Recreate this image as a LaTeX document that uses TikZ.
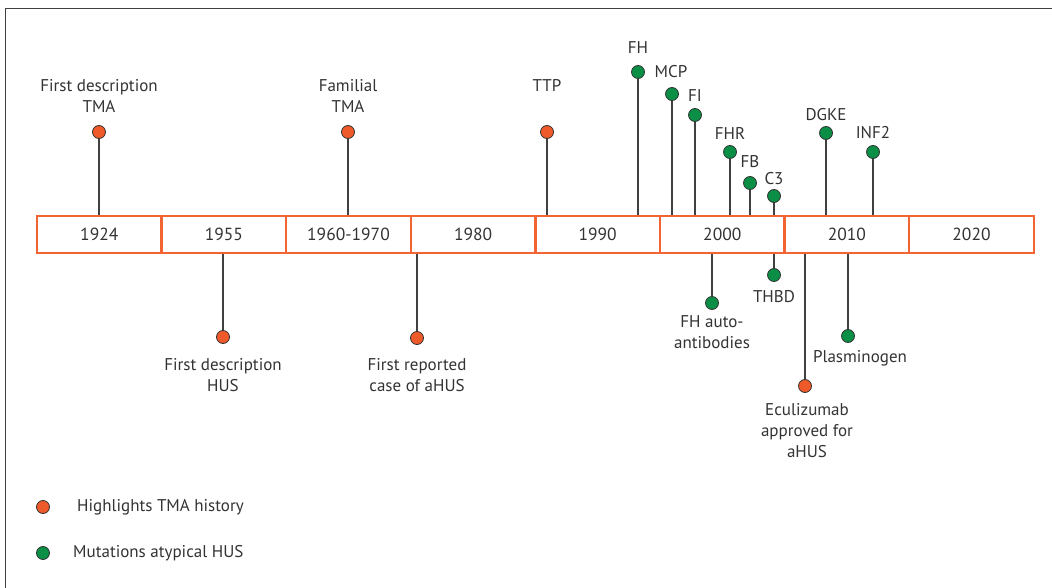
\documentclass[tikz,border=0pt]{standalone}
\usepackage{fontspec}
\setmainfont{PT Sans}
\definecolor{orng}{HTML}{EE5A2A}
\definecolor{grn}{HTML}{0B8E45}
\definecolor{txt}{HTML}{333333}
\definecolor{boxc}{HTML}{F26532}
\begin{document}
\begin{tikzpicture}[x=1pt,y=-1pt,
  yearbox/.style={draw=boxc,line width=2.4pt,minimum width=124.6pt,minimum height=37pt,inner sep=0pt,font=\fontsize{17.5}{17.5}\selectfont,text=txt},
  opin/.style={circle,draw=black!80,line width=0.8pt,fill=orng,minimum size=13pt,inner sep=0pt},
  gpin/.style={circle,draw=black!80,line width=0.8pt,fill=grn,minimum size=13pt,inner sep=0pt},
  lbl/.style={font=\fontsize{17}{21}\selectfont,text=txt,align=center,inner sep=0pt},
  stem/.style={draw=black!75,line width=1.1pt}]
\useasboundingbox (0,0) rectangle (1052,588);
\draw[black!75,line width=1.5pt] (1052,8.5) coordinate (fr1) -- (5.5,8.5) coordinate (fr2) -- (5.5,588) coordinate (fr3);
% year boxes
\foreach \i/\t in {0/1924,1/1955,2/1960-1970,3/1980,4/1990,5/2000,6/2010,7/2020}{
  \node[yearbox] (b\i) at ({37+124.6*\i+62.3},234.5) {\t};
}
% upper pins
\node[opin] (p1) at (99,132) {};
\node[lbl] at (99,96) {First description\\TMA};
\node[opin] (p2) at (348,132) {};
\node[lbl] at (348,96) {Familial\\TMA};
\node[opin] (p3) at (547,132) {};
\node[lbl] at (547,85) {TTP};
\node[gpin] (g1) at (638,72) {};
\node[lbl] at (638,48) {FH};
\node[gpin] (g2) at (672,94) {};
\node[lbl] at (671,72) {MCP};
\node[gpin] (g3) at (695,115) {};
\node[lbl] at (695,96) {FI};
\node[gpin] (g4) at (730,152) {};
\node[lbl] at (730,133) {FHR};
\node[gpin] (g5) at (750,183) {};
\node[lbl] at (750,162) {FB};
\node[gpin] (g6) at (774,196) {};
\node[lbl] at (774,179) {C3};
\node[gpin] (g7) at (826,133) {};
\node[lbl] at (826,115) {DGKE};
\node[gpin] (g8) at (873,152) {};
\node[lbl] at (873,133) {INF2};
\foreach \p/\b in {p1/b0,p2/b2,p3/b4,g1/b4,g2/b5,g3/b5,g4/b5,g5/b5,g6/b5,g7/b6,g8/b6}{
  \draw[stem] (\p.south) -- (\p.south |- \b.north);
}
% lower pins
\node[opin] (q1) at (223,337) {};
\node[lbl] at (223,375) {First description\\HUS};
\node[opin] (q2) at (417,338) {};
\node[lbl] at (417,375) {First reported\\case of aHUS};
\node[gpin] (h1) at (712,303) {};
\node[lbl] at (712,332) {FH auto-\\antibodies};
\node[gpin] (h2) at (774,275) {};
\node[lbl] at (774,297) {THBD};
\node[opin] (q3) at (805,386) {};
\node[lbl] at (807,431) {Eculizumab\\approved for\\aHUS};
\node[gpin] (h3) at (848,336) {};
\node[lbl] at (860,358) {Plasminogen};
\foreach \p/\b in {q1/b1,q2/b3,h1/b5,h2/b5,q3/b6,h3/b6}{
  \draw[stem] (\p.north) -- (\p.north |- \b.south);
}
% legend
\node[opin] (l1) at (43,507) {};
\node[lbl,anchor=west] (lt1) at (77,507) {Highlights TMA history};
\node[gpin] (l2) at (43,553) {};
\node[lbl,anchor=west] (lt2) at (73,553) {Mutations atypical HUS};
\end{tikzpicture}
\end{document}
